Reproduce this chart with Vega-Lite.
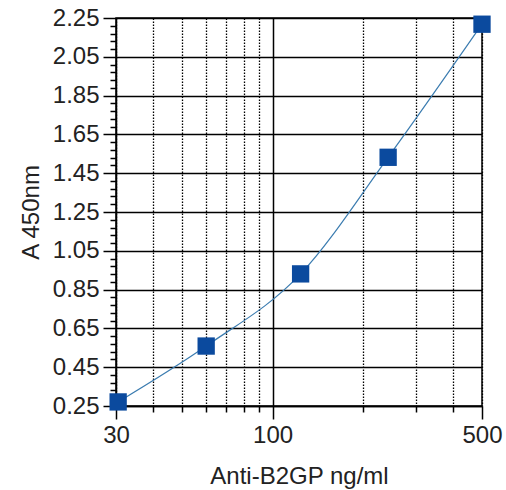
{
  "$schema": "https://vega.github.io/schema/vega-lite/v6.json",
  "width": 366,
  "height": 388,
  "autosize": {"type": "none"},
  "padding": {"left": 116, "top": 18, "right": 24, "bottom": 84},
  "background": "white",
  "config": {
    "view": {"stroke": "#000000", "strokeWidth": 1.5},
    "font": "Liberation Sans"
  },
  "data": {
    "values": [
      {"conc": 30.5, "abs": 0.271},
      {"conc": 60, "abs": 0.559},
      {"conc": 124, "abs": 0.931},
      {"conc": 243, "abs": 1.532},
      {"conc": 500, "abs": 2.218}
    ]
  },
  "encoding": {
    "x": {
      "field": "conc",
      "type": "quantitative",
      "scale": {"type": "log", "domain": [30, 500], "nice": false},
      "axis": {
        "title": "Anti-B2GP ng/ml",
        "values": [30, 40, 50, 60, 70, 80, 90, 100, 200, 300, 400, 500],
        "labelExpr": "indexof([30,100,500], datum.value) >= 0 ? format(datum.value, 'd') : ''",
        "labelOverlap": false,
        "labelFlush": false,
        "labelFont": "Liberation Sans",
        "labelFontSize": 24,
        "labelColor": "#222222",
        "labelPadding": 4,
        "titleFont": "Liberation Sans",
        "titleFontSize": 24,
        "titleFontWeight": "normal",
        "titleColor": "#222222",
        "titleX": 183,
        "titleY": 77,
        "titleBaseline": "alphabetic",
        "domainColor": "#000000",
        "domainWidth": 1.5,
        "tickColor": "#000000",
        "tickWidth": 1.5,
        "tickSize": {"condition": {"test": "indexof([30,100,500], datum.value) >= 0", "value": 13}, "value": 6},
        "grid": true,
        "gridColor": "#000000",
        "gridWidth": {"condition": {"test": "datum.value == 100", "value": 1.5}, "value": 1.3},
        "gridDash": {"condition": {"test": "datum.value == 100", "value": []}, "value": [1.5, 1.5]},
        "gridOpacity": 1
      }
    },
    "y": {
      "field": "abs",
      "type": "quantitative",
      "scale": {"domain": [0.25, 2.25], "nice": false, "zero": false},
      "axis": {
        "title": "A 450nm",
        "values": [0.25,0.29,0.33,0.37,0.41,0.45,0.49,0.53,0.57,0.61,0.65,0.69,0.73,0.77,0.81,0.85,0.89,0.93,0.97,1.01,1.05,1.09,1.13,1.17,1.21,1.25,1.29,1.33,1.37,1.41,1.45,1.49,1.53,1.57,1.61,1.65,1.69,1.73,1.77,1.81,1.85,1.89,1.93,1.97,2.01,2.05,2.09,2.13,2.17,2.21,2.25],
        "labelExpr": "indexof([0.25,0.45,0.65,0.85,1.05,1.25,1.45,1.65,1.85,2.05,2.25], datum.value) >= 0 ? format(datum.value, '.2f') : ''",
        "labelOverlap": false,
        "labelFlush": false,
        "labelFont": "Liberation Sans",
        "labelFontSize": 24,
        "labelColor": "#222222",
        "labelPadding": 4,
        "titleFont": "Liberation Sans",
        "titleFontSize": 24,
        "titleFontWeight": "normal",
        "titleColor": "#222222",
        "titleAngle": -90,
        "titleX": -85,
        "titleY": 194,
        "titleAlign": "center",
        "titleBaseline": "middle",
        "domainColor": "#000000",
        "domainWidth": 1.5,
        "tickColor": "#000000",
        "tickWidth": 1.5,
        "tickSize": {"condition": {"test": "indexof([0.25,0.45,0.65,0.85,1.05,1.25,1.45,1.65,1.85,2.05,2.25], datum.value) >= 0", "value": 13}, "value": 6},
        "grid": true,
        "gridColor": "#000000",
        "gridWidth": 1.5,
        "gridOpacity": {"condition": {"test": "indexof([0.25,0.45,0.65,0.85,1.05,1.25,1.45,1.65,1.85,2.05,2.25], datum.value) >= 0", "value": 1}, "value": 0}
      }
    }
  },
  "layer": [
    {"mark": {"type": "line", "interpolate": "monotone", "color": "#3b7cb0", "strokeWidth": 1.2}},
    {"mark": {"type": "square", "filled": true, "color": "#0b4a9e", "opacity": 1, "size": 300}}
  ]
}
